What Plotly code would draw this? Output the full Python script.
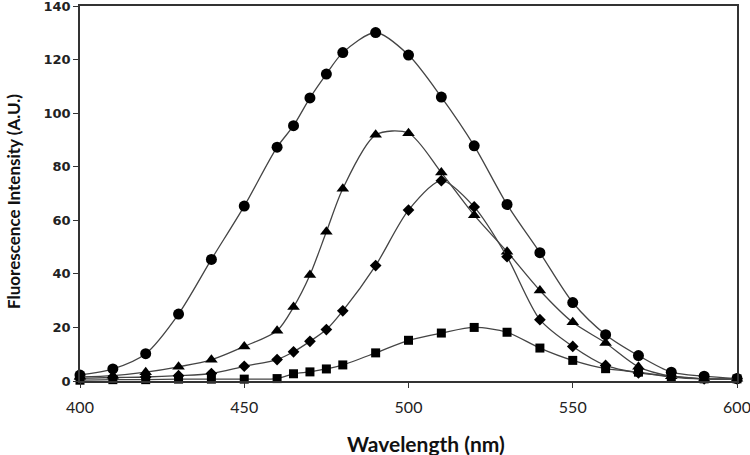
import plotly.graph_objects as go

wl_full = [400, 410, 420, 430, 440, 450, 460, 465, 470, 475, 480, 490, 500, 510, 520, 530, 540, 550, 560, 570, 580, 590, 600]

circle_vals = [2.2, 4.5, 10.2, 25, 45.4, 65.3, 87.3, 95.3, 105.7, 114.6, 122.6, 130.1, 121.7, 106, 87.8, 65.9, 47.9, 29.3, 17.3, 9.5, 3.3, 1.8, 0.9]
triangle_vals = [1.5, 2.0, 3.3, 5.3, 7.9, 12.9, 18.8, 27.6, 39.6, 55.7, 71.8, 91.9, 92.5, 77.8, 61.9, 48.3, 33.8, 21.9, 14.2, 5.3, 1.8, 0.8, 0.8]
diamond_vals = [1.0, 1.3, 1.5, 2.0, 2.8, 5.5, 8.0, 10.9, 14.8, 19.2, 26.2, 43.1, 63.8, 74.8, 65.0, 46.4, 22.9, 12.9, 5.8, 3.0, 1.8, 0.8, 0.8]
square_vals = [0.3, 0.5, 0.5, 0.7, 0.7, 0.7, 0.9, 2.7, 3.4, 4.5, 6.0, 10.5, 15.2, 17.9, 20.0, 18.2, 12.3, 7.7, 4.6, 3.3, 1.5, 0.8, 0.8]

x_ticks = [400, 450, 500, 550, 600]
y_ticks = [0, 20, 40, 60, 80, 100, 120, 140]

x_title = "Wavelength (nm)"
y_title = "Fluorescence Intensity (A.U.)"

series = [
    ("circle", circle_vals, "circle", 11),
    ("triangle", triangle_vals, "triangle-up", 11),
    ("diamond", diamond_vals, "diamond", 9),
    ("square", square_vals, "square", 9),
]

fig = go.Figure()
for name, vals, sym, size in series:
    fig.add_trace(go.Scatter(
        x=wl_full, y=vals, name=name, mode="lines+markers",
        line=dict(color="#444444", width=1.3, shape="spline", smoothing=0.8),
        marker=dict(symbol=sym, size=size, color="black"),
        showlegend=False, cliponaxis=False,
    ))

fig.update_layout(
    width=750, height=455,
    margin=dict(l=80, r=13, t=6, b=74, autoexpand=False),
    plot_bgcolor="white", paper_bgcolor="white",
    font=dict(family="DejaVu Sans", color="#222222"),
    annotations=[
        dict(text="<b>" + x_title + "</b>", xref="paper", yref="paper",
             x=(426 - 80) / 657, y=-(443 - 381) / 375, xanchor="center", yanchor="middle",
             showarrow=False, font=dict(family="Lato", size=21, color="#111")),
        dict(text="<b>" + y_title + "</b>", xref="paper", yref="paper",
             x=-(80 - 14) / 657, y=(381 - 202) / 375, xanchor="center", yanchor="middle",
             textangle=-90, showarrow=False, font=dict(family="Lato", size=17, color="#111")),
    ],
)
fig.update_xaxes(
    range=[400, 600], tickvals=x_ticks, ticks="outside", ticklen=5,
    tickcolor="#333", showline=True, linecolor="#333", linewidth=1.5, mirror=True,
    showgrid=False, zeroline=False, automargin=False, ticklabeloverflow="allow",
    ticklabelstandoff=6,
    tickfont=dict(family="Lato", size=16, color="#222"),
)
fig.update_yaxes(
    range=[0, 140], tickvals=y_ticks, ticks="outside", ticklen=5,
    tickcolor="#333", showline=True, linecolor="#333", linewidth=1.5, mirror=True,
    showgrid=False, zeroline=False, automargin=False, ticklabeloverflow="allow",
    tickfont=dict(family="DejaVu Sans", size=13, color="#222", weight="bold"),
)

fig.write_html("out.html", config={"displayModeBar": False},
               post_script="document.body.style.margin='0';document.body.style.overflow='hidden';")
